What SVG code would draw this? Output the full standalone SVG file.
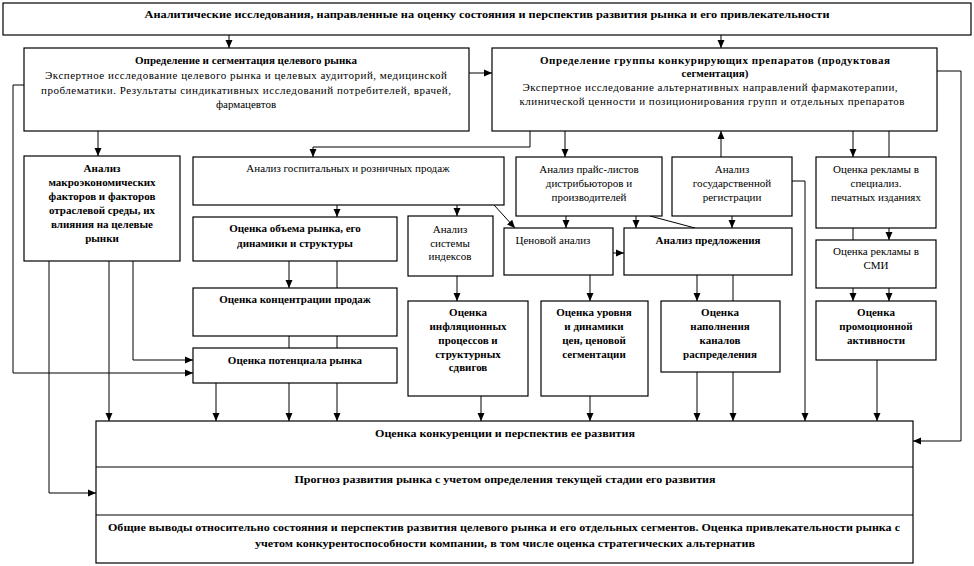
<svg xmlns="http://www.w3.org/2000/svg" width="974" height="566" viewBox="0 0 974 566">
<style>
.b{fill:#fff;stroke:#000;stroke-width:1.2}
.c line,.c polyline{stroke:#000;stroke-width:1;fill:none}
.a{marker-end:url(#ah)}
text{font-family:"Liberation Serif","Times New Roman",serif;font-size:11px;fill:#000;text-anchor:middle}
.t{font-weight:bold}
.k{font-weight:bold;font-size:10.5px}
</style>
<defs>
<marker id="ah" markerUnits="userSpaceOnUse" markerWidth="8" markerHeight="8" refX="8" refY="4" orient="auto">
<path d="M0,0.5 L8,4 L0,7.5 z" fill="#000"/>
</marker>
</defs>
<rect width="974" height="566" fill="#fff"/>
<g class="c">
<line class="a" x1="229" y1="35" x2="229" y2="48"/>
<line class="a" x1="721" y1="35" x2="721" y2="48"/>
<line class="a" x1="469" y1="73" x2="492" y2="73"/>
<polyline class="a" points="24,85 13,85 13,373 193,373"/>
<polyline class="a" points="937,71 961,71 961,441 913,441"/>
<line class="a" x1="98" y1="131" x2="98" y2="156"/>
<polyline class="a" points="530,131 530,147 313,147 313,157"/>
<line class="a" x1="565" y1="131" x2="565" y2="157"/>
<line class="a" x1="721" y1="157" x2="721" y2="131"/>
<line class="a" x1="853" y1="131" x2="853" y2="157"/>
<line x1="889" y1="131" x2="889" y2="157"/>
<line x1="853" y1="228" x2="853" y2="240"/>
<line class="a" x1="889" y1="228" x2="889" y2="240"/>
<line class="a" x1="853" y1="288" x2="853" y2="301"/>
<line class="a" x1="889" y1="288" x2="889" y2="301"/>
<line class="a" x1="877" y1="360" x2="877" y2="421"/>
<polyline class="a" points="792,181 805,181 805,421"/>
<line class="a" x1="732" y1="216" x2="732" y2="228"/>
<line x1="733" y1="275" x2="733" y2="301"/>
<line class="a" x1="733" y1="372" x2="733" y2="421"/>
<line class="a" x1="697" y1="275" x2="697" y2="301"/>
<line class="a" x1="697" y1="372" x2="697" y2="421"/>
<line class="a" x1="566" y1="216" x2="566" y2="228"/>
<line class="a" x1="636" y1="216" x2="636" y2="228"/>
<line x1="650" y1="216" x2="695" y2="228"/>
<line class="a" x1="613" y1="253" x2="624" y2="253"/>
<line class="a" x1="590" y1="275" x2="590" y2="301"/>
<line class="a" x1="590" y1="396" x2="590" y2="421"/>
<line class="a" x1="337" y1="205" x2="337" y2="217"/>
<line class="a" x1="457" y1="205" x2="457" y2="216"/>
<line class="a" x1="494" y1="205" x2="515" y2="228"/>
<line class="a" x1="457" y1="276" x2="457" y2="301"/>
<line class="a" x1="481" y1="396" x2="481" y2="421"/>
<line class="a" x1="289" y1="261" x2="289" y2="288"/>
<line x1="337" y1="261" x2="337" y2="288"/>
<line x1="289" y1="336" x2="289" y2="348"/>
<line x1="337" y1="336" x2="337" y2="348"/>
<line class="a" x1="216" y1="383" x2="216" y2="421"/>
<line class="a" x1="289" y1="383" x2="289" y2="421"/>
<line class="a" x1="337" y1="383" x2="337" y2="421"/>
<polyline class="a" points="49,261 49,493 96,493"/>
<line class="a" x1="109" y1="261" x2="109" y2="421"/>
<polyline class="a" points="133,261 133,360 193,360"/>
</g>
<g id="top"><rect class="b" x="3" y="3" width="968" height="32"/>
<text class="k" x="487" y="18" textLength="685" lengthAdjust="spacingAndGlyphs">Аналитические исследования, направленные на оценку состояния и перспектив развития рынка и его привлекательности</text></g>
<g id="segm"><rect class="b" x="24" y="48" width="445" height="83"/>
<text class="t" x="246" y="64">Определение и сегментация целевого рынка</text>
<text x="246" y="79" textLength="402">Экспертное исследование целевого рынка и целевых аудиторий, медицинской</text>
<text x="246" y="94" textLength="410">проблематики. Результаты синдикативных исследований потребителей, врачей,</text>
<text x="246" y="108">фармацевтов</text></g>
<g id="group"><rect class="b" x="492" y="48" width="445" height="83"/>
<text class="t" x="715" y="64" textLength="350">Определение группы конкурирующих препаратов (продуктовая</text>
<text class="t" x="715" y="77">сегментация)</text>
<text x="710" y="91" textLength="375">Экспертное исследование альтернативных направлений фармакотерапии,</text>
<text x="712" y="105" textLength="385">клинической ценности и позиционирования групп и отдельных препаратов</text></g>
<g id="macro"><rect class="b" x="24" y="156" width="156" height="105"/>
<text class="t" x="102" y="172">Анализ</text>
<text class="t" x="102" y="186">макроэкономических</text>
<text class="t" x="102" y="200">факторов и факторов</text>
<text class="t" x="102" y="214">отраслевой среды, их</text>
<text class="t" x="102" y="228">влияния на целевые</text>
<text class="t" x="102" y="242">рынки</text></g>
<g id="hosp"><rect class="b" x="193" y="157" width="311" height="48"/>
<text x="348" y="172">Анализ госпитальных и розничных продаж</text></g>
<g id="price"><rect class="b" x="516" y="157" width="146" height="59"/>
<text x="589" y="173">Анализ прайс-листов</text>
<text x="589" y="187">дистрибьюторов и</text>
<text x="589" y="201">производителей</text></g>
<g id="reg"><rect class="b" x="672" y="157" width="120" height="59"/>
<text x="732" y="173">Анализ</text>
<text x="732" y="187">государственной</text>
<text x="732" y="201">регистрации</text></g>
<g id="adspec"><rect class="b" x="816" y="157" width="120" height="71"/>
<text x="876" y="173">Оценка рекламы в</text>
<text x="876" y="187">специализ.</text>
<text x="876" y="201">печатных изданиях</text></g>
<g id="volume"><rect class="b" x="193" y="217" width="204" height="44"/>
<text class="t" x="295" y="232">Оценка объема рынка, его</text>
<text class="t" x="295" y="247">динамики и структуры</text></g>
<g id="index"><rect class="b" x="408" y="216" width="85" height="60"/>
<text x="450" y="233">Анализ</text>
<text x="450" y="247">системы</text>
<text x="450" y="260">индексов</text></g>
<g id="pricean"><rect class="b" x="504" y="228" width="109" height="47"/>
<text x="553" y="244">Ценовой анализ</text></g>
<g id="supply"><rect class="b" x="624" y="228" width="168" height="47"/>
<text class="t" x="708" y="244">Анализ предложения</text></g>
<g id="admedia"><rect class="b" x="816" y="240" width="120" height="48"/>
<text x="876" y="255">Оценка рекламы в</text>
<text x="876" y="269">СМИ</text></g>
<g id="conc"><rect class="b" x="193" y="288" width="204" height="48"/>
<text class="t" x="295" y="303">Оценка концентрации продаж</text></g>
<g id="potential"><rect class="b" x="193" y="348" width="204" height="35"/>
<text class="t" x="295" y="364">Оценка потенциала рынка</text></g>
<g id="infl"><rect class="b" x="408" y="301" width="120" height="95"/>
<text class="t" x="468" y="316">Оценка</text>
<text class="t" x="468" y="330">инфляционных</text>
<text class="t" x="468" y="344">процессов и</text>
<text class="t" x="468" y="358">структурных</text>
<text class="t" x="468" y="371">сдвигов</text></g>
<g id="priceseg"><rect class="b" x="541" y="301" width="107" height="95"/>
<text class="t" x="594" y="316">Оценка уровня</text>
<text class="t" x="594" y="330">и динамики</text>
<text class="t" x="594" y="344">цен, ценовой</text>
<text class="t" x="594" y="358">сегментации</text></g>
<g id="distr"><rect class="b" x="661" y="301" width="119" height="71"/>
<text class="t" x="720" y="316">Оценка</text>
<text class="t" x="720" y="330">наполнения</text>
<text class="t" x="720" y="344">каналов</text>
<text class="t" x="720" y="358">распределения</text></g>
<g id="promo"><rect class="b" x="816" y="301" width="120" height="59"/>
<text class="t" x="876" y="316">Оценка</text>
<text class="t" x="876" y="330">промоционной</text>
<text class="t" x="876" y="344">активности</text></g>
<g id="result"><rect class="b" x="96" y="421" width="817" height="142"/>
<line x1="96" y1="467" x2="913" y2="467" stroke="#000" stroke-width="1.2"/>
<line x1="96" y1="515" x2="913" y2="515" stroke="#000" stroke-width="1.2"/>
<text class="k" x="505" y="437" textLength="260" lengthAdjust="spacingAndGlyphs">Оценка конкуренции и перспектив ее развития</text>
<text class="k" x="505" y="483" textLength="421" lengthAdjust="spacingAndGlyphs">Прогноз развития рынка с учетом определения текущей стадии его развития</text>
<text class="k" x="504" y="531" textLength="792" lengthAdjust="spacingAndGlyphs">Общие выводы относительно состояния и перспектив развития целевого рынка и его отдельных сегментов. Оценка привлекательности рынка с</text>
<text class="k" x="505" y="547" textLength="500" lengthAdjust="spacingAndGlyphs">учетом конкурентоспособности компании, в том числе оценка стратегических альтернатив</text></g>
</svg>
